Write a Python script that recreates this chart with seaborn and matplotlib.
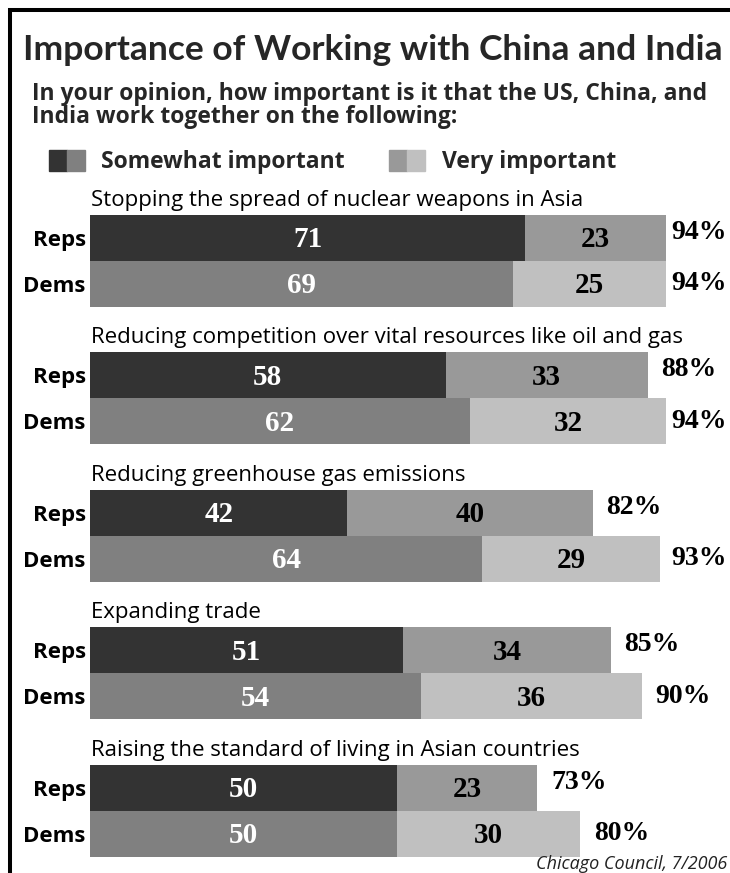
import pandas as pd
import seaborn as sns
import matplotlib.pyplot as plt
from matplotlib.patches import Patch, Rectangle
from matplotlib.legend_handler import HandlerTuple

# data (percent)
topics = ['Stopping the spread of nuclear weapons in Asia',
          'Reducing competition over vital resources like oil and gas',
          'Reducing greenhouse gas emissions',
          'Expanding trade',
          'Raising the standard of living in Asian countries']
parties = ['Reps', 'Dems']
reps_somewhat = [71, 58, 42, 51, 50]
reps_very = [23, 33, 40, 34, 23]
reps_total = [94, 88, 82, 85, 73]
dems_somewhat = [69, 62, 64, 54, 50]
dems_very = [25, 32, 29, 36, 30]
dems_total = [94, 94, 93, 90, 80]

somewhat_colors = {'Reps': '#333333', 'Dems': '#808080'}
very_colors = {'Reps': '#999999', 'Dems': '#c0c0c0'}


def main():
    sns.set_theme(style='white')
    plt.rcParams['font.family'] = ['Open Sans', 'DejaVu Sans']

    rows = []
    order = []
    for g, topic in enumerate(topics):
        order += [f'{g}-gap', f'{g}-Reps', f'{g}-Dems']
        rows.append(dict(row=f'{g}-Reps', party='Reps', topic=topic,
                         somewhat=reps_somewhat[g], very=reps_very[g], total=reps_total[g]))
        rows.append(dict(row=f'{g}-Dems', party='Dems', topic=topic,
                         somewhat=dems_somewhat[g], very=dems_very[g], total=dems_total[g]))
    df = pd.DataFrame(rows)
    df['bar_end'] = df['somewhat'] + df['very']

    fig = plt.figure(figsize=(7.30, 8.73), dpi=100)
    ax = fig.add_axes([90 / 730, 1 - 856.6 / 873, 613 / 730, 687.5 / 873])

    # stacked bars: full length in the "very" colour, then the "somewhat" part on top
    sns.barplot(data=df, x='bar_end', y='row', hue='party', order=order, orient='h',
                palette=very_colors, width=1.0, saturation=1, dodge=False,
                errorbar=None, legend=False, linewidth=0, ax=ax)
    sns.barplot(data=df, x='somewhat', y='row', hue='party', order=order, orient='h',
                palette=somewhat_colors, width=1.0, saturation=1, dodge=False,
                errorbar=None, legend=False, linewidth=0, ax=ax)

    num_font = dict(family='Liberation Serif', weight='bold', size=21)
    for _, r in df.iterrows():
        y = order.index(r['row'])
        ax.text(r['somewhat'] / 2, y + 0.04, str(r['somewhat']), color='white',
                ha='center', va='center', **num_font)
        ax.text(r['somewhat'] + r['very'] / 2, y + 0.04, str(r['very']), color='black',
                ha='center', va='center', **num_font)
        # total to the right of the bar, kept inside the picture
        dy = -0.12 if r['party'] == 'Reps' else 0.0
        x = min(r['bar_end'] + 2.2, 94.9)
        ax.text(x, y + dy, f"{r['total']}%", color='black',
                ha='left', va='center', family='Liberation Serif', weight='bold', size=20)

    # topic headings above each pair of bars
    for g, topic in enumerate(topics):
        ax.text(0.2, order.index(f'{g}-Reps') - 0.7, topic, ha='left', va='baseline',
                fontsize=16, color='black')

    ax.set_xlim(0, 100)
    ax.set_ylim(14.5, -0.5)
    ax.set_xticks([])
    ax.set_xlabel('')
    ax.set_ylabel('')
    ax.set_yticks([order.index(r) for r in df['row']])
    ax.set_yticklabels(df['party'], fontsize=16, fontweight='bold', color='black')
    ax.tick_params(axis='y', length=0, pad=3)
    sns.despine(ax=ax, left=True, bottom=True)

    # header
    fig.text(23 / 730, 1 - 60 / 873, 'Importance of Working with China and India',
             family=['Lato', 'DejaVu Sans'], fontsize=25.5, fontweight='bold',
             va='baseline', ha='left')
    fig.text(32 / 730, 1 - 100 / 873,
             'In your opinion, how important is it that the US, China, and',
             fontsize=16.5, fontweight='bold', va='baseline', ha='left')
    fig.text(32 / 730, 1 - 123 / 873, 'India work together on the following:',
             fontsize=16.5, fontweight='bold', va='baseline', ha='left')

    handles = [(Patch(color=somewhat_colors['Reps']), Patch(color=somewhat_colors['Dems'])),
               (Patch(color=very_colors['Reps']), Patch(color=very_colors['Dems']))]
    fig.legend(handles, ['Somewhat important', 'Very important'], ncol=2,
               handler_map={tuple: HandlerTuple(ndivide=None, pad=0)},
               loc='center left', bbox_to_anchor=(49 / 730, 1 - 162 / 873),
               frameon=False, borderpad=0, borderaxespad=0,
               handlelength=1.57, handleheight=1.05, handletextpad=0.72,
               columnspacing=1.92, prop=dict(size=16.5, weight='bold'))

    fig.text(727 / 730, 4 / 873, 'Chicago Council, 7/2006', fontsize=13,
             style='italic', color='#222222', ha='right', va='baseline')

    # frame (only the top and left edges fall inside the picture)
    fig.add_artist(Rectangle((10 / 730, -0.5), 2, 1.5 - 10 / 873, transform=fig.transFigure,
                             fill=False, lw=2.9, ec='black'))

    fig.savefig('out.png', dpi=100)


if __name__ == '__main__':
    main()
